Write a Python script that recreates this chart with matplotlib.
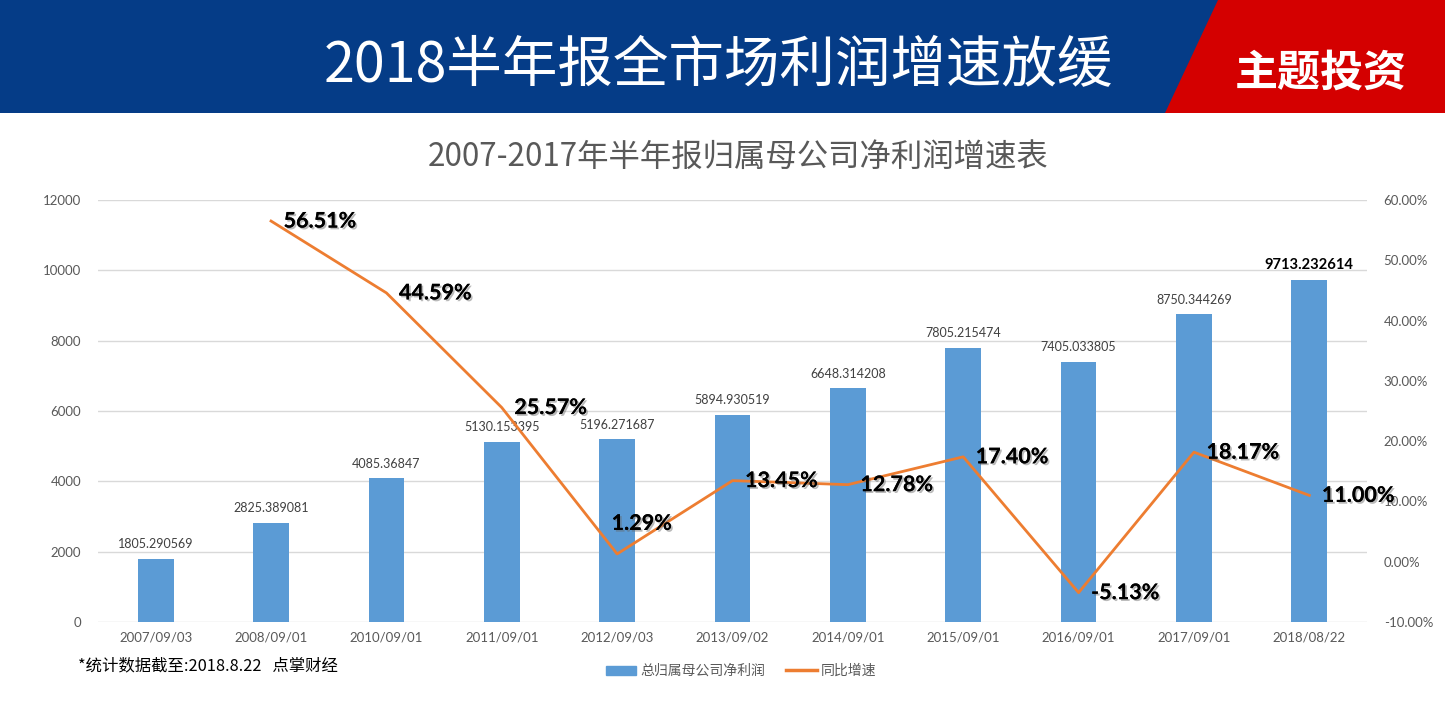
import matplotlib
matplotlib.use("Agg")
import matplotlib.pyplot as plt
import matplotlib.patches as mpatches
import matplotlib.lines as mlines
import matplotlib.patheffects as pe
from matplotlib.ticker import FuncFormatter

plt.rcParams['font.family'] = ['Lato', 'Noto Sans CJK SC', 'DejaVu Sans']

categories = ["2007/09/03", "2008/09/01", "2010/09/01", "2011/09/01", "2012/09/03",
              "2013/09/02", "2014/09/01", "2015/09/01", "2016/09/01", "2017/09/01", "2018/08/22"]
profit = [1805.290569, 2825.389081, 4085.36847, 5130.153395, 5196.271687,
          5894.930519, 6648.314208, 7805.215474, 7405.033805, 8750.344269, 9713.232614]
growth = [None, 0.5651, 0.4459, 0.2557, 0.0129, 0.1345, 0.1278, 0.1740, -0.0513, 0.1817, 0.1100]
profit_labels = ["1805.290569", "2825.389081", "4085.36847", "5130.153395", "5196.271687",
                 "5894.930519", "6648.314208", "7805.215474", "7405.033805", "8750.344269", "9713.232614"]
growth_labels = [None, "56.51%", "44.59%", "25.57%", "1.29%", "13.45%", "12.78%",
                 "17.40%", "-5.13%", "18.17%", "11.00%"]

W, H = 1445, 706
fig = plt.figure(figsize=(W / 100, H / 100), dpi=100)
fig.patch.set_facecolor('white')

# header band
hdr = fig.add_axes([0, 0, 1, 1], zorder=0)
hdr.set_xlim(0, W)
hdr.set_ylim(H, 0)
hdr.axis('off')
hdr.add_patch(mpatches.Rectangle((0, 0), W, 113, facecolor='#053c87', edgecolor='none'))
hdr.add_patch(mpatches.Polygon([(1218, 0), (W, 0), (W, 113), (1165, 113)],
                               closed=True, facecolor='#d40000', edgecolor='none'))
hdr.text(718, 66, "2018半年报全市场利润增速放缓", color='white', fontsize=40,
         ha='center', va='center', family=['Noto Sans CJK SC', 'DejaVu Sans'])
hdr.text(1321, 73, "主题投资", color='white', fontsize=31, fontweight='bold',
         ha='center', va='center', family=['Noto Sans CJK SC', 'DejaVu Sans'])
hdr.text(738, 157, "2007-2017年半年报归属母公司净利润增速表", color='#595959', fontsize=22.6,
         ha='center', va='center', family=['Noto Sans CJK SC', 'DejaVu Sans'])
hdr.text(78, 666, "*统计数据截至:2018.8.22   点掌财经", color='black', fontsize=11.8,
         ha='left', va='center', family=['Noto Sans CJK SC', 'DejaVu Sans'])

# main axes
left, right, top, bottom = 98, 1367, 200, 622
ax = fig.add_axes([left / W, (H - bottom) / H, (right - left) / W, (bottom - top) / H], zorder=2)
ax.patch.set_alpha(0)
x = list(range(len(categories)))
ax.bar(x, profit, width=0.31, color='#5b9bd5', zorder=2)
ax.set_xlim(-0.5, len(categories) - 0.5)
ax.set_ylim(0, 12000)
ax.set_yticks(range(0, 12001, 2000))
ax.grid(axis='y', color='#d9d9d9', linewidth=1, zorder=0)
ax.set_axisbelow(True)
for s in ax.spines.values():
    s.set_visible(False)
ax.tick_params(length=0, colors='#595959', labelsize=9.5)
ax.tick_params(axis='y', pad=12)
ax.tick_params(axis='x', pad=7)
ax.set_xticks(x)
ax.set_xticklabels(categories)

for i, (v, lab) in enumerate(zip(profit, profit_labels)):
    last = i == len(profit) - 1
    ax.annotate(lab, (i, v), xytext=(0, 6), textcoords='offset points', ha='center', va='bottom',
                fontsize=10.6 if last else 9, fontweight='bold' if last else 'normal',
                color='black' if last else '#404040')

ax2 = ax.twinx()
ax2.set_zorder(3)
ax2.patch.set_alpha(0)
ax2.set_ylim(-0.10, 0.60)
ax2.set_yticks([-0.1, 0, 0.1, 0.2, 0.3, 0.4, 0.5, 0.6])
ax2.yaxis.set_major_formatter(FuncFormatter(lambda v, p: f"{v*100:.2f}%"))
for s in ax2.spines.values():
    s.set_visible(False)
ax2.tick_params(length=0, colors='#595959', labelsize=9.5, pad=12)

gx = [i for i, g in zip(x, growth) if g is not None]
gy = [g for g in growth if g is not None]
ax2.plot(gx, gy, color='#ed7d31', linewidth=2.0, zorder=4)

shadow = [pe.withSimplePatchShadow(offset=(1.3, -1.3), shadow_rgbFace='#666666', alpha=0.45), pe.Normal()]
for i, g, lab in zip(x, growth, growth_labels):
    if g is None:
        continue
    off = (-4, 22) if lab == "1.29%" else (9, 0)
    t = ax2.annotate(lab, (i, g), xytext=off, textcoords='offset points', ha='left', va='center',
                     fontsize=15.5, fontweight='bold', color='black', zorder=5)
    t.set_path_effects(shadow)

# legend
h1 = mpatches.Patch(color='#5b9bd5')
h2 = mlines.Line2D([], [], color='#ed7d31', linewidth=2.5)
leg = fig.legend([h1, h2], ["总归属母公司净利润", "同比增速"], loc='center',
                 bbox_to_anchor=(741 / W, (H - 671) / H), ncol=2, frameon=False,
                 prop={'family': ['Noto Sans CJK SC', 'DejaVu Sans'], 'size': 10},
                 handlelength=2.2, handleheight=0.6, columnspacing=1.5, handletextpad=0.3)
for t in leg.get_texts():
    t.set_color('#595959')

fig.savefig("out.png", dpi=100)
